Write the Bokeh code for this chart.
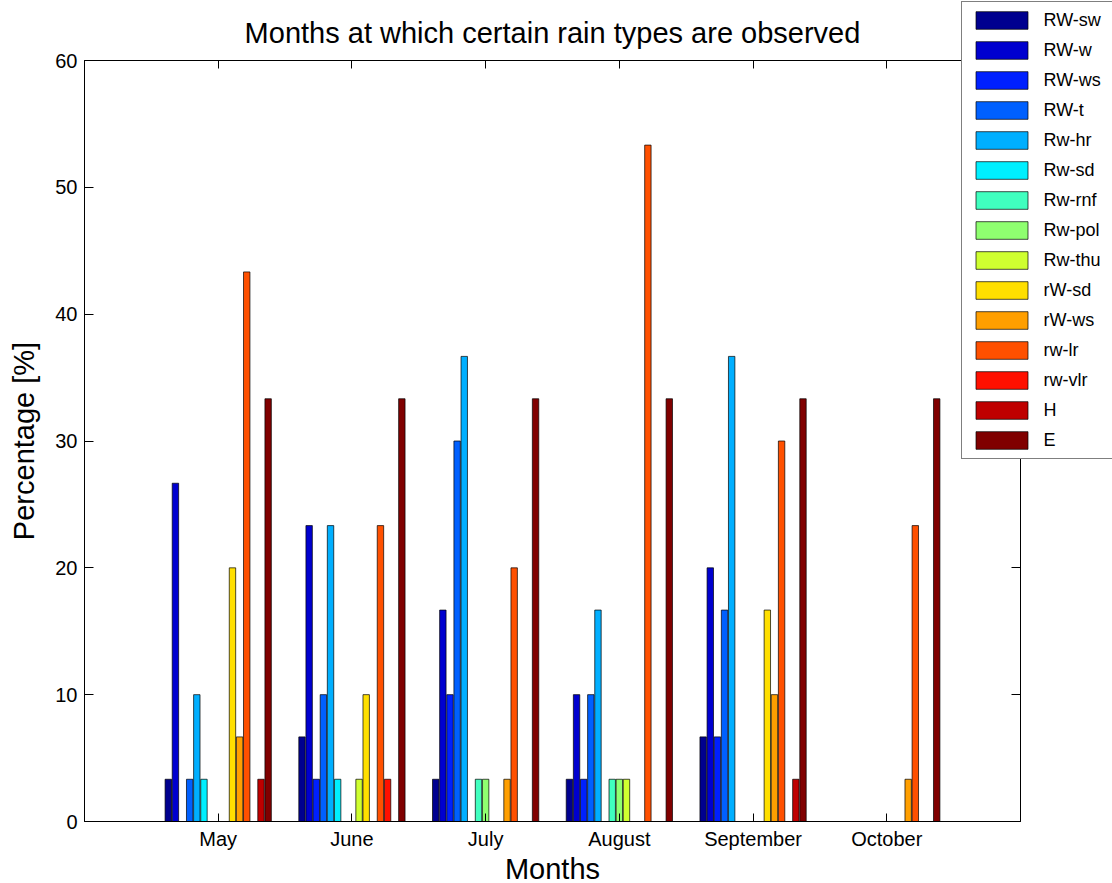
from bokeh.plotting import figure
from bokeh.models import (ColumnDataSource, FactorRange, Range1d, LinearAxis,
                          CategoricalAxis, FixedTicker, Legend, LegendItem)
from bokeh.transform import dodge
from bokeh.embed import file_html
from bokeh.resources import INLINE

# Months on the category axis
months = ["May", "June", "July", "August", "September", "October"]

# Rain types, one bar series each
rain_types = ["RW-sw", "RW-w", "RW-ws", "RW-t", "Rw-hr", "Rw-sd", "Rw-rnf",
              "Rw-pol", "Rw-thu", "rW-sd", "rW-ws", "rw-lr", "rw-vlr", "H", "E"]

# Series colours sampled from a jet colour map
colors = ["#00008F", "#0000CF", "#0020FF", "#0060FF", "#00AFFF", "#00EFFF",
          "#40FFBF", "#8FFF70", "#CFFF30", "#FFDF00", "#FF9F00", "#FF5000",
          "#FF1000", "#BF0000", "#800000"]

# Percentage of each rain type per month (order as in rain_types)
may = [3.33, 26.67, 0, 3.33, 10, 3.33, 0, 0, 0, 20, 6.67, 43.33, 0, 3.33, 33.33]
june = [6.67, 23.33, 3.33, 10, 23.33, 3.33, 0, 0, 3.33, 10, 0, 23.33, 3.33, 0, 33.33]
july = [3.33, 16.67, 10, 30, 36.67, 0, 3.33, 3.33, 0, 0, 3.33, 20, 0, 0, 33.33]
august = [3.33, 10, 3.33, 10, 16.67, 0, 3.33, 3.33, 3.33, 0, 0, 53.33, 0, 0, 33.33]
september = [6.67, 20, 6.67, 16.67, 36.67, 0, 0, 0, 0, 16.67, 10, 30, 0, 3.33, 33.33]
october = [0, 0, 0, 0, 0, 0, 0, 0, 0, 0, 3.33, 23.33, 0, 0, 33.33]

y_ticks = [0, 10, 20, 30, 40, 50, 60]

per_month = [may, june, july, august, september, october]

FONT = "Liberation Sans"

data = {"month": months}
for j, name in enumerate(rain_types):
    data[name] = [vals[j] for vals in per_month]
source = ColumnDataSource(data)

p = figure(
    x_range=FactorRange(*months, range_padding=0.5, range_padding_units="absolute"),
    y_range=Range1d(0, 60),
    frame_width=936, frame_height=761,
    min_border_left=84, min_border_right=92, min_border_top=60, min_border_bottom=62,
    output_backend="svg", toolbar_location=None,
    title="Months at which certain rain types are observed",
)

p.background_fill_color = "white"
p.border_fill_color = "white"
p.outline_line_color = "black"
p.outline_line_width = 1
p.xgrid.visible = False
p.ygrid.visible = False

p.title.text_font = FONT
p.title.text_font_size = "29px"
p.title.text_font_style = "normal"
p.title.align = "center"
p.title.text_color = "black"
p.title.standoff = 23

# grouped bars
n = len(rain_types)
group_width = 0.8
step = group_width / n
bar_w = step * 0.9
items = []
for j, name in enumerate(rain_types):
    off = (j - (n - 1) / 2) * step
    r = p.vbar(x=dodge("month", off, range=p.x_range), top=name, bottom=0,
               width=bar_w, source=source, fill_color=colors[j],
               line_color="black", line_width=0.7)
    items.append(LegendItem(label=name, renderers=[r]))

# bottom axis
xa = p.xaxis[0]
xa.axis_label = "Months"
xa.axis_label_text_font = FONT
xa.axis_label_text_font_size = "29px"
xa.axis_label_text_font_style = "normal"
xa.axis_label_text_color = "black"
xa.axis_label_standoff = 0
xa.major_label_text_font = FONT
xa.major_label_text_font_size = "20px"
xa.major_label_standoff = 6
xa.major_tick_in = 8
xa.major_tick_out = 0
xa.axis_line_color = "black"
xa.major_label_text_color = "black"

# left axis
ya = p.yaxis[0]
ya.ticker = FixedTicker(ticks=y_ticks)
ya.axis_label = "Percentage [%]"
ya.axis_label_text_font = FONT
ya.axis_label_text_font_size = "29px"
ya.axis_label_text_font_style = "normal"
ya.axis_label_text_color = "black"
ya.axis_label_standoff = 12
ya.major_label_text_font = FONT
ya.major_label_text_font_size = "20px"
ya.major_label_standoff = 7
ya.major_tick_in = 9
ya.major_tick_out = 0
ya.minor_tick_line_color = None
ya.axis_line_color = "black"
ya.major_label_text_color = "black"

# tick marks on the top and right edges of the box (no labels)
top_axis = CategoricalAxis(major_label_text_color=None, major_label_text_font_size="1px",
                           major_label_standoff=0, major_tick_in=8, major_tick_out=0,
                           axis_line_color="black")
p.add_layout(top_axis, "above")
right_axis = LinearAxis(ticker=FixedTicker(ticks=y_ticks), major_label_text_color=None,
                        major_label_text_font_size="1px", major_label_standoff=0,
                        major_tick_in=9, major_tick_out=0,
                        minor_tick_line_color=None, axis_line_color="black")
p.add_layout(right_axis, "right")

# legend box in the right margin, reaching over the top-right corner of the axes
legend = Legend(items=items, location=(-237, 362), glyph_width=65, glyph_height=22,
                label_height=22, label_width=75, spacing=8, padding=7, margin=-40,
                label_standoff=10, label_text_font=FONT, label_text_font_size="18px",
                label_text_color="black",
                border_line_color="black", border_line_width=1,
                background_fill_color="white", background_fill_alpha=1)
p.add_layout(legend, "right")

open("out.html", "w").write(file_html(p, INLINE))
